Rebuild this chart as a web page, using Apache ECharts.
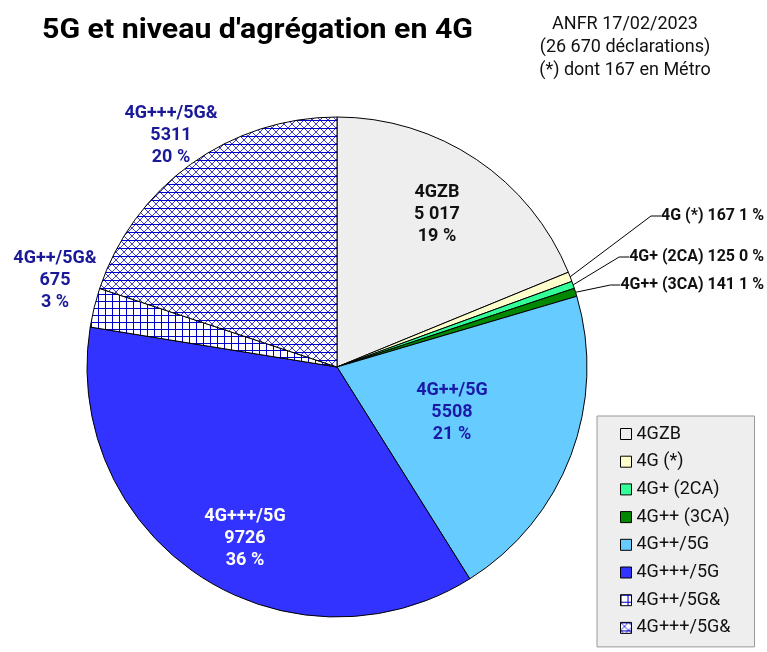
<!DOCTYPE html>
<html>
<head>
<meta charset="utf-8">
<script src="https://cdn.jsdelivr.net/npm/echarts@6/dist/echarts.min.js"></script>
<style>
html,body{margin:0;padding:0;background:#fff;}
#chart{width:767px;height:652px;}
</style>
</head>
<body>
<div id="chart"></div>
<script>
// ---- Data ----
var categories = ['4GZB', '4G (*)', '4G+ (2CA)', '4G++ (3CA)', '4G++/5G', '4G+++/5G', '4G++/5G&', '4G+++/5G&'];
var values = [5017, 167, 125, 141, 5508, 9726, 675, 5311];
var titleText = "5G et niveau d'agrégation en 4G";
var noteLines = ['ANFR 17/02/2023', '(26 670 déclarations)', '(*) dont 167 en Métro'];

// ---- Patterns ----
function gridPattern() {
  var c = document.createElement('canvas');
  c.width = 7; c.height = 7;
  var g = c.getContext('2d');
  g.fillStyle = '#ffffff'; g.fillRect(0, 0, 7, 7);
  g.strokeStyle = '#0000cc'; g.lineWidth = 1;
  g.beginPath();
  g.moveTo(0, 0.5); g.lineTo(7, 0.5);
  g.moveTo(0.5, 0); g.lineTo(0.5, 7);
  g.stroke();
  return c;
}
function crossPattern() {
  var c = document.createElement('canvas');
  c.width = 8; c.height = 8;
  var g = c.getContext('2d');
  g.fillStyle = '#ffffff'; g.fillRect(0, 0, 8, 8);
  g.strokeStyle = '#3a3ad8'; g.lineWidth = 1;
  g.beginPath();
  g.moveTo(0, 0); g.lineTo(8, 8);
  g.moveTo(8, 0); g.lineTo(0, 8);
  g.stroke();
  g.strokeStyle = '#0000cc'; g.lineWidth = 1;
  g.beginPath();
  g.moveTo(0, 0.5); g.lineTo(8, 0.5);
  g.stroke();
  return c;
}

var sliceColors = [
  '#eeeeee', '#ffffcc', '#33ff99', '#008800', '#66ccff', '#3333ff',
  { image: gridPattern(), repeat: 'repeat' },
  { image: crossPattern(), repeat: 'repeat' }
];
var labelColors = ['#111111', '#111111', '#111111', '#111111', '#1a1aa8', '#ffffff', '#1a1a99', '#1a1a99'];
var outsideIdx = [1, 2, 3];

// label placement (text anchor positions)
var labelPlace = {
  0: { x: 437, y: 214, align: 'center' },
  1: { x: 764, y: 216, align: 'right' },
  2: { x: 764, y: 257, align: 'right' },
  3: { x: 764, y: 285, align: 'right' },
  4: { x: 452, y: 412, align: 'center' },
  5: { x: 245, y: 538, align: 'center' },
  6: { x: 55, y: 280, align: 'center' },
  7: { x: 171, y: 135, align: 'center' }
};

var total = values.reduce(function (a, b) { return a + b; }, 0);

var pieData = categories.map(function (name, i) {
  var outside = outsideIdx.indexOf(i) >= 0;
  return {
    name: name,
    value: values[i],
    itemStyle: { color: sliceColors[i] },
    label: {
      show: true,
      position: outside ? 'outside' : 'inside',
      color: labelColors[i],
      fontSize: outside ? 16 : 18
    },
    labelLine: { show: outside, length: 10, length2: 10, lineStyle: { color: '#000', width: 1 } }
  };
});

function fmtNum(v, grouped) {
  var s = String(v);
  if (!grouped) return s;
  return s.replace(/\B(?=(\d{3})+(?!\d))/g, ' ');
}

// title width fit (reference title spans ~431px)
var titleFont = 'bold 28px Roboto';
var mc = document.createElement('canvas').getContext('2d');
mc.font = titleFont;
var titleScale = 431 / mc.measureText(titleText).width;

var chart = echarts.init(document.getElementById('chart'), null, { renderer: 'canvas' });
chart.setOption({
  backgroundColor: '#ffffff',
  animation: false,
  graphic: [
    {
      type: 'text',
      x: 42, y: 31,
      scaleX: titleScale,
      style: {
        text: titleText,
        font: titleFont,
        fill: '#000',
        verticalAlign: 'middle'
      }
    },
    {
      type: 'text',
      x: 625, y: 47,
      style: {
        text: noteLines.join('\n'),
        font: '18px Roboto',
        lineHeight: 23,
        fill: '#111',
        align: 'center',
        verticalAlign: 'middle'
      }
    }
  ],
  legend: {
    orient: 'vertical',
    left: 597, top: 416,
    backgroundColor: '#eeeeee',
    borderColor: '#999999', borderWidth: 1, borderRadius: 0,
    padding: [9, 24, 10, 23],
    itemWidth: 11, itemHeight: 11, itemGap: 9.7,
    icon: 'rect',
    itemStyle: { borderColor: '#000', borderWidth: 1 },
    textStyle: { fontFamily: 'Roboto', fontSize: 18, color: '#111' },
    data: categories
  },
  series: [{
    type: 'pie',
    center: [337, 367],
    radius: 250,
    startAngle: 90,
    clockwise: true,
    avoidLabelOverlap: false,
    percentPrecision: 0,
    itemStyle: { borderColor: '#000', borderWidth: 1 },
    emphasis: { disabled: true },
    label: {
      fontFamily: 'Roboto', fontWeight: 'bold', fontSize: 18, lineHeight: 22,
      formatter: function (p) {
        var pct = Math.round(p.value / total * 100);
        if (outsideIdx.indexOf(p.dataIndex) >= 0) {
          return p.name + ' ' + p.value + ' ' + pct + ' %';
        }
        return p.name + '\n' + fmtNum(p.value, p.dataIndex === 0) + '\n' + pct + ' %';
      }
    },
    labelLayout: function (params) {
      var lp = labelPlace[params.dataIndex];
      return { x: lp.x, y: lp.y, align: lp.align, verticalAlign: 'middle' };
    },
    data: pieData
  }]
});
</script>
</body>
</html>
